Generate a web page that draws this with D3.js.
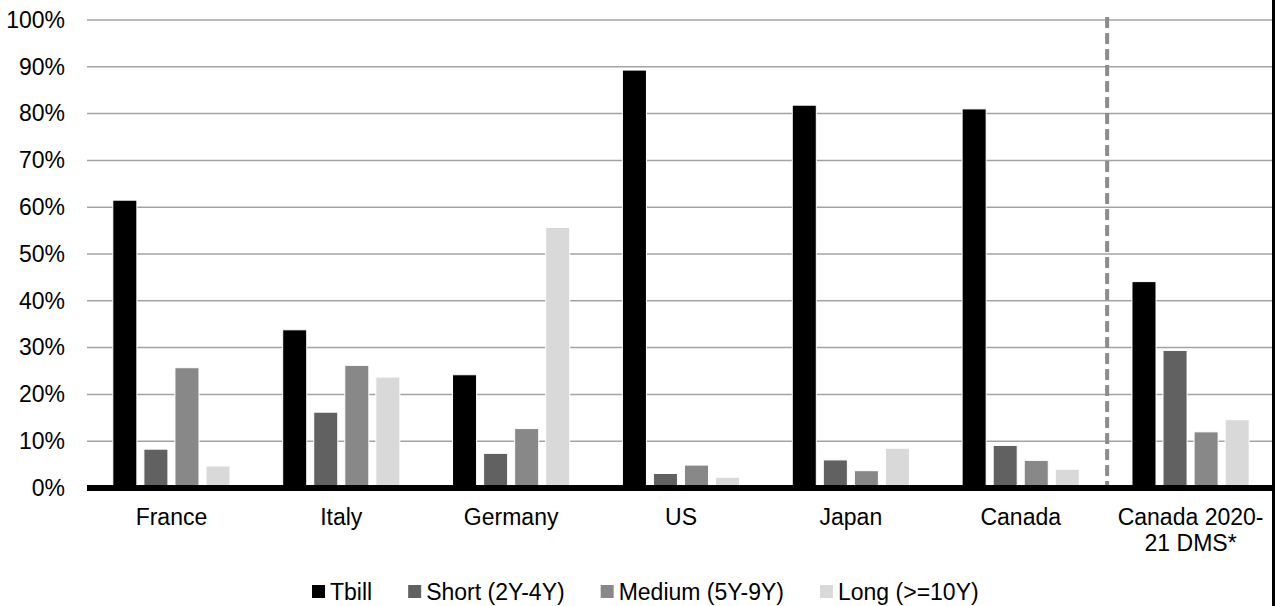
<!DOCTYPE html>
<html>
<head>
<meta charset="utf-8">
<script src="https://cdn.jsdelivr.net/npm/d3@7"></script>
<style>
  body { margin: 0; background: #fff; }
  svg { display: block; font-family: "Liberation Sans", Arial, sans-serif; }
</style>
</head>
<body>
<svg width="1275" height="606"></svg>
<script>
var categories = ["France", "Italy", "Germany", "US", "Japan", "Canada", "Canada 2020-\n21 DMS*"];
var seriesNames = ["Tbill", "Short (2Y-4Y)", "Medium (5Y-9Y)", "Long (>=10Y)"];
var tbill  = [0.615, 0.338, 0.242, 0.893, 0.818, 0.810, 0.441];
var short  = [0.083, 0.162, 0.074, 0.031, 0.060, 0.091, 0.294];
var medium = [0.257, 0.262, 0.127, 0.049, 0.037, 0.059, 0.120];
var long   = [0.047, 0.237, 0.557, 0.023, 0.085, 0.040, 0.146];
var yTicks = [0, 0.1, 0.2, 0.3, 0.4, 0.5, 0.6, 0.7, 0.8, 0.9, 1.0];
var colors = ["#000000", "#616161", "#888888", "#d9d9d9"];

var seriesValues = [tbill, short, medium, long];
var data = categories.map(function (c, i) {
    return {name: c, values: seriesValues.map(function (s, j) { return {key: seriesNames[j], value: s[i]}; })};
});

var svg = d3.select("svg");
var plotLeft = 87, plotRight = 1275, plotTop = 20, plotBottom = 488;
var fontSize = "23px";

var x0 = d3.scaleBand().domain(categories).range([plotLeft - 0.5, plotRight + 0.5]).paddingInner(0.31).paddingOuter(0.155);
var x1 = d3.scaleBand().domain(seriesNames).range([0, x0.bandwidth()]).paddingInner(0.226);
var y = d3.scaleLinear().domain([0, 1]).range([plotBottom, plotTop]);

// gridlines
svg.append("g")
    .selectAll("line")
    .data(yTicks.filter(function (d) { return d > 0; }))
    .enter().append("line")
    .attr("x1", plotLeft).attr("x2", plotRight - 2)
    .attr("y1", function (d) { return y(d); })
    .attr("y2", function (d) { return y(d); })
    .attr("stroke", "#a3a3a3")
    .attr("stroke-width", 1.5);

// y labels
var yAxis = d3.axisLeft(y).tickValues(yTicks).tickFormat(d3.format(".0%")).tickSize(0).tickPadding(22);
var ya = svg.append("g").attr("transform", "translate(" + plotLeft + ",0)").call(yAxis);
ya.select(".domain").remove();
ya.selectAll("text").attr("font-size", fontSize).attr("fill", "#000").attr("font-family", "Liberation Sans, Arial, sans-serif");

// dashed separator between last two groups
var sepX = (x0(categories[5]) + x0.bandwidth() + x0(categories[6])) / 2 + 1.5;
svg.append("line")
    .attr("x1", sepX).attr("x2", sepX)
    .attr("y1", plotTop - 3).attr("y2", plotBottom)
    .attr("stroke", "#8c8c8c")
    .attr("stroke-width", 4)
    .attr("stroke-dasharray", "11,5");

// bars
var groups = svg.append("g").selectAll("g")
    .data(data)
    .enter().append("g")
    .attr("transform", function (d) { return "translate(" + x0(d.name) + ",0)"; });

groups.selectAll("rect")
    .data(function (d) { return d.values; })
    .enter().append("rect")
    .attr("x", function (d) { return x1(d.key); })
    .attr("width", x1.bandwidth())
    .attr("y", function (d) { return y(d.value); })
    .attr("height", function (d) { return plotBottom - y(d.value); })
    .attr("fill", function (d, i) { return colors[i]; })
    .attr("stroke", "#fff")
    .attr("stroke-width", 1);

// zero axis line
svg.append("line")
    .attr("x1", plotLeft).attr("x2", plotRight)
    .attr("y1", plotBottom).attr("y2", plotBottom)
    .attr("stroke", "#000")
    .attr("stroke-width", 6);

// x labels
var xl = svg.append("g").selectAll("text")
    .data(categories)
    .enter().append("text")
    .attr("text-anchor", "middle")
    .attr("font-size", fontSize)
    .attr("fill", "#000")
    .attr("transform", function (d) { return "translate(" + (x0(d) + x0.bandwidth() / 2) + ",525)"; });
xl.selectAll("tspan")
    .data(function (d) { return d.split("\n"); })
    .enter().append("tspan")
    .attr("x", 0)
    .attr("dy", function (d, i) { return i === 0 ? 0 : 26; })
    .text(function (d) { return d; });

// legend
var legend = svg.append("g");
var lx = 312;
seriesNames.forEach(function (name, i) {
    var item = legend.append("g").attr("transform", "translate(" + lx + ",0)");
    item.append("rect")
        .attr("x", 0).attr("y", 585)
        .attr("width", 13).attr("height", 13)
        .attr("fill", colors[i]);
    var t = item.append("text")
        .attr("x", 18).attr("y", 600)
        .attr("font-size", fontSize)
        .attr("fill", "#000")
        .text(name);
    lx += 18 + t.node().getComputedTextLength() + 36;
});

// right frame edge
svg.append("line")
    .attr("x1", 1273.5).attr("x2", 1273.5)
    .attr("y1", 0).attr("y2", 606)
    .attr("stroke", "#000")
    .attr("stroke-width", 3);
</script>
</body>
</html>
